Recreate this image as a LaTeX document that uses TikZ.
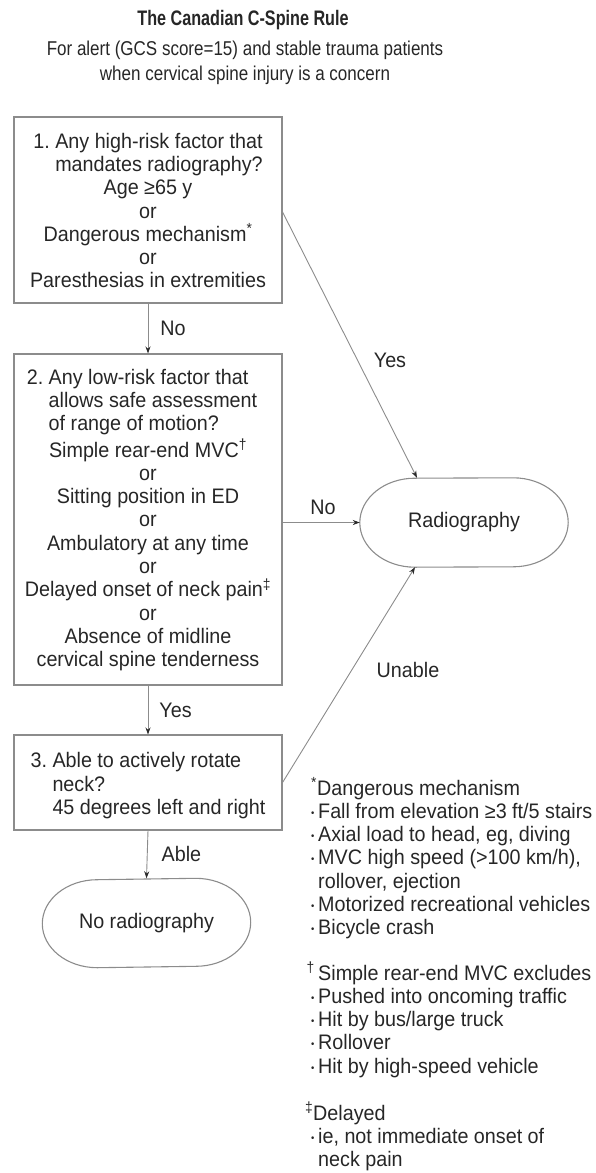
\documentclass[tikz,border=0pt]{standalone}
\usepackage{fontspec}
\setmainfont{Liberation Sans}[FakeStretch=0.94]
\newfontfamily\titlefont{Liberation Sans}[FakeStretch=0.77]
\newfontfamily\subfont{Liberation Sans}[FakeStretch=0.85]
\usetikzlibrary{arrows.meta,calc}
\definecolor{txt}{HTML}{262626}
\definecolor{edgec}{HTML}{8C8C8C}
\definecolor{tipc}{HTML}{2A2A2A}
\newcommand\bul{\makebox[7pt][l]{\raisebox{2.2pt}{\fontsize{10}{10}\selectfont •}}}
\begin{document}
\begin{tikzpicture}[x=1pt,y=-1pt,
  every node/.style={text=txt,font=\fontsize{21}{23.3}\selectfont},
  box/.style={draw=edgec,line width=1.1pt,minimum width=268pt,inner sep=0pt,align=center},
  stad/.style={minimum width=208pt,minimum height=89pt,inner sep=0pt},
  lbl/.style={inner sep=0pt},
  arr/.style={draw=edgec,line width=0.9pt,-{Stealth[length=7pt,width=5pt,color=tipc]}},
  outline/.style={draw=edgec,line width=1.1pt}]
\useasboundingbox (0,0) rectangle (596,1173);
\node[font=\titlefont\bfseries\fontsize{21}{24}\selectfont] (title) at (243,20) {The Canadian C-Spine Rule};
\node[font=\subfont\fontsize{20}{25}\selectfont,align=center] (sub) at (245,62.5) {For alert (GCS score=15) and stable trauma patients\\when cervical spine injury is a concern};
\node[box,minimum height=186pt] (b1) at (148,210) {\begin{tabular}[b]{@{}l@{}}1.~Any high-risk factor that\\\phantom{1.~}mandates radiography?\end{tabular}\\Age ≥65 y\\or\\Dangerous mechanism\textsuperscript{*}\\or\\Paresthesias in extremities};
\node[box,minimum height=331pt] (b2) at (148,519.5) {\begin{tabular}[b]{@{}l@{}}2.~Any low-risk factor that\\\phantom{2.~}allows safe assessment\\\phantom{2.~}of range of motion?\end{tabular}\hspace*{12pt}\\Simple rear-end MVC\textsuperscript{†}\\or\\Sitting position in ED\\or\\Ambulatory at any time\\or\\Delayed onset of neck pain\textsuperscript{‡}\\or\\Absence of midline\\cervical spine tenderness};
\node[box,minimum height=95pt] (b3) at (148,782.5) {\raisebox{-4pt}[\height][\depth]{\begin{tabular}[b]{@{}l@{}}3.~Able to actively rotate\\\phantom{3.~}neck?\\\phantom{3.~}45 degrees left and right\end{tabular}}};
\node[stad] (radio) at (464,522.5) {Radiography};
\node[stad] (noradio) at (146.5,923) {No radiography};
\draw[outline] ($(radio.north east)+(-55,0)$) arc[start angle=90,end angle=-90,x radius=55pt,y radius=44.5pt] -- ($(radio.south west)+(55,0)$) arc[start angle=270,end angle=90,x radius=55pt,y radius=44.5pt] -- cycle;
\draw[outline] ($(noradio.north east)+(-55,0)$) arc[start angle=90,end angle=-90,x radius=55pt,y radius=44pt] -- ($(noradio.south west)+(55,0)$) arc[start angle=270,end angle=90,x radius=55pt,y radius=44pt] -- cycle;
\draw[arr] (b1.south) -- node[lbl,anchor=west,xshift=12pt] (lno1) {No} (b2.north);
\draw[arr] (b2.south) -- node[lbl,anchor=west,xshift=11pt] (lyes2) {Yes} (b3.north);
\draw[arr] (b3.south) -- node[lbl,anchor=west,xshift=14pt] (lable) {Able} (noradio.north);
\draw[arr] ($(b1.east)+(0,2)$) -- ($(radio.north)+(-47,0)$);
\draw[arr] (b2.east |- radio.west) -- (radio.west);
\draw[arr] (b3.east) -- ($(radio.south)+(-49,0)$);
\node[lbl] (lyes) at (390,360) {Yes};
\node[lbl] (lno2) at (323,507) {No};
\node[lbl] (lunable) at (408,670) {Unable};
\node[anchor=base west,inner sep=0pt] (fn1) at (311,795) {\begin{tabular}[t]{@{}l@{}}\textsuperscript{*}Dangerous mechanism\\\bul Fall from elevation ≥3 ft/5 stairs\\\bul Axial load to head, eg, diving\\\bul MVC high speed (>100 km/h),\\\hspace*{7pt}rollover, ejection\\\bul Motorized recreational vehicles\\\bul Bicycle crash\end{tabular}};
\node[anchor=base west,inner sep=0pt] (fn2) at (311,980) {\begin{tabular}[t]{@{}l@{}}\hspace*{7pt}\llap{\textsuperscript{†}\,}Simple rear-end MVC excludes\\\bul Pushed into oncoming traffic\\\bul Hit by bus/large truck\\\bul Rollover\\\bul Hit by high-speed vehicle\end{tabular}};
\node[anchor=base west,inner sep=0pt] (fn3) at (311,1120) {\begin{tabular}[t]{@{}l@{}}\hspace*{2pt}\llap{\textsuperscript{‡}}Delayed\\\bul ie, not immediate onset of\\\hspace*{7pt}neck pain\end{tabular}};
\end{tikzpicture}
\end{document}
